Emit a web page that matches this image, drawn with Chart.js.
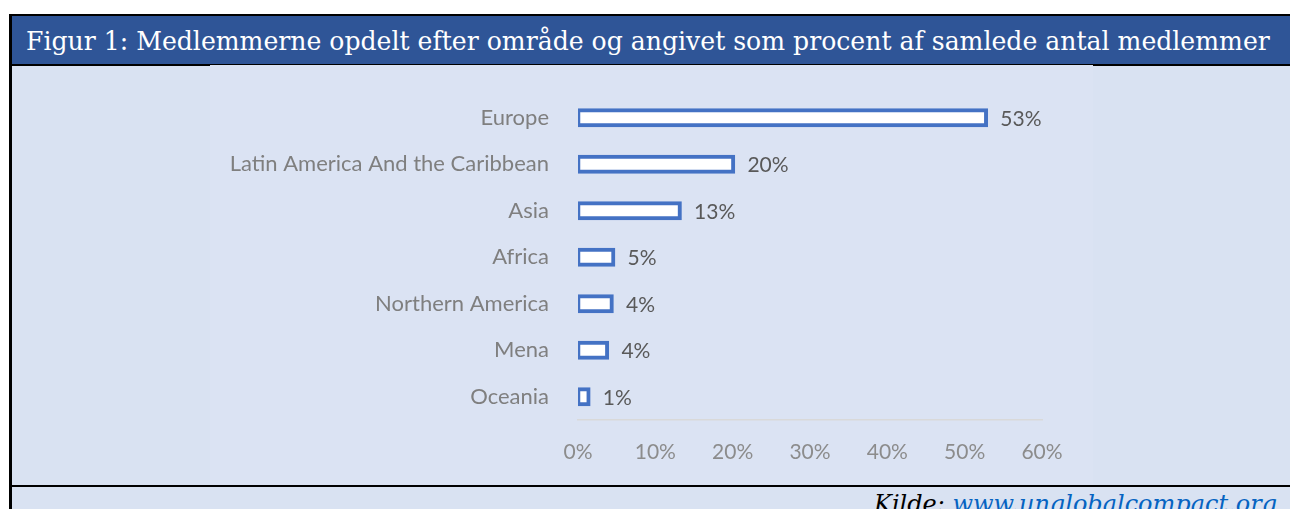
<!DOCTYPE html>
<html>
<head>
<meta charset="utf-8">
<script src="https://cdn.jsdelivr.net/npm/chart.js@4.4.1/dist/chart.umd.min.js"></script>
<style>
  html, body { margin: 0; padding: 0; background: #fff; overflow: hidden; width: 1290px; height: 509px; }
  #frame { position: absolute; left: 9px; top: 14px; width: 1290px; height: 520px;
           border-top: 2px solid #000; border-left: 3px solid #000; background: #D9E2F2; }
  #header { position: absolute; left: 0; top: 0; width: 1290px; height: 48px; background: #2F5597;
            border-bottom: 2px solid #000; }
  #title { position: absolute; left: 14px; top: 11px; color: #fff; font-family: "DejaVu Serif", serif;
           font-size: 25px; white-space: nowrap; }
  #chartBox { position: absolute; left: 198px; top: 49px; width: 883px; height: 420px; background: #DBE3F3; }
  #bottomLine { position: absolute; left: 0; top: 469px; width: 1290px; height: 2px; background: #000; }
  #source { position: absolute; right: 25px; top: 474px; font-family: "DejaVu Serif", serif; font-style: italic;
            font-size: 24px; white-space: nowrap; color: #000; }
  #source a { color: #0563C1; text-decoration: underline; }
</style>
</head>
<body>
<div id="frame">
  <div id="header"><span id="title">Figur 1: Medlemmerne opdelt efter område og angivet som procent af samlede antal medlemmer</span></div>
  <div id="chartBox"><canvas id="myChart" width="883" height="420"></canvas></div>
  <div id="bottomLine"></div>
  <div id="source">Kilde: <a>www.unglobalcompact.org</a></div>
</div>
<script>
// data
var regions = ["Europe", "Latin America And the Caribbean", "Asia", "Africa", "Northern America", "Mena", "Oceania"];
var shares = [52.8, 20.1, 13.2, 4.6, 4.4, 3.8, 1.4];
var xTicks = [0, 10, 20, 30, 40, 50, 60];

// fit the title to the header width
(function () {
    var t = document.getElementById("title");
    var target = 1245;
    var size = 25;
    t.style.fontSize = size + "px";
    size = size * target / t.getBoundingClientRect().width;
    t.style.fontSize = size + "px";
})();

// draw the percentages next to the bars
var barLabels = {
    id: "barLabels",
    afterDatasetsDraw: function (chart) {
        var ctx = chart.ctx;
        var meta = chart.getDatasetMeta(0);
        ctx.save();
        ctx.font = "21px Lato";
        ctx.fillStyle = "#595959";
        ctx.textAlign = "left";
        ctx.textBaseline = "middle";
        meta.data.forEach(function (bar, i) {
            ctx.fillText(Math.round(shares[i]) + "%", bar.x + 14, bar.y + 1);
        });
        ctx.restore();
    }
};

window.onload = function () {
    var ctx = document.getElementById("myChart").getContext("2d");
    var myChart = new Chart(ctx, {
        type: "bar",
        data: {
            labels: regions,
            datasets: [{
                data: shares,
                backgroundColor: "#FFFFFF",
                borderColor: "#4472C4",
                borderWidth: 4,
                borderSkipped: false,
                inflateAmount: 1.75,
                barPercentage: 0.333,
                categoryPercentage: 1
            }]
        },
        plugins: [barLabels],
        options: {
            indexAxis: "y",
            responsive: false,
            animation: false,
            layout: { padding: { left: 0, right: 51, top: 29.5, bottom: 0 } },
            plugins: { legend: { display: false }, tooltip: { enabled: false } },
            scales: {
                x: {
                    min: 0,
                    max: 60,
                    afterBuildTicks: function (scale) {
                        scale.ticks = xTicks.map(function (v) { return { value: v }; });
                    },
                    afterFit: function (scale) {
                        scale.height = 65;
                        scale.paddingLeft = 0;
                        scale.paddingRight = 0;
                    },
                    grid: { display: false, drawTicks: false },
                    border: { display: true, color: "#D9D9D9", width: 1.5 },
                    ticks: {
                        padding: 20,
                        color: "#8C8C8C",
                        font: { family: "Lato", size: 21 },
                        callback: function (v) { return v + "%"; }
                    }
                },
                y: {
                    afterFit: function (scale) {
                        scale.width = 368;
                        scale.paddingTop = 0;
                        scale.paddingBottom = 0;
                    },
                    grid: { display: false, drawTicks: false },
                    border: { display: false },
                    ticks: {
                        padding: 29,
                        color: "#7F7F7F",
                        font: { family: "Lato", size: 22 }
                    }
                }
            }
        }
    });
};
</script>
</body>
</html>
